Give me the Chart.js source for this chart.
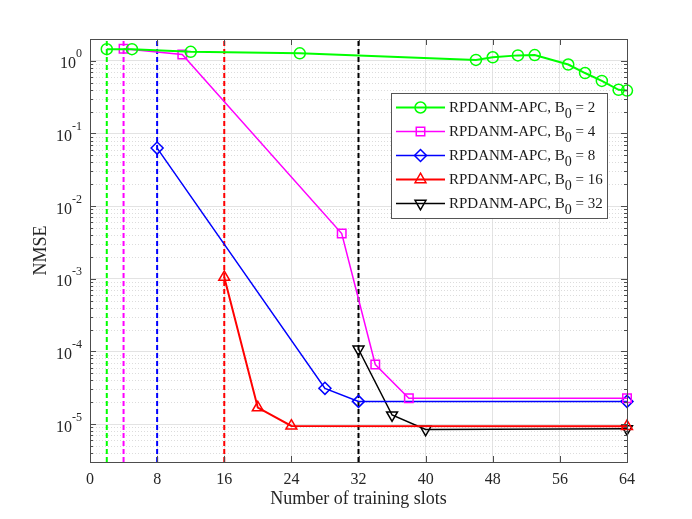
<!DOCTYPE html>
<html>
<head>
<meta charset="utf-8">
<title>NMSE vs number of training slots</title>
<script src="https://cdn.jsdelivr.net/npm/chart.js@4.4.1/dist/chart.umd.min.js"></script>
<style>
  html, body { margin:0; padding:0; background:#fff; }
  #wrap { width:692px; height:519px; }
</style>
</head>
<body>
<div id="wrap"><canvas id="nmseChart" width="692" height="519"></canvas></div>
<script>
/* ===============================
   DATA
================================ */

const b0Values = [2, 4, 8, 16, 32];

const slotsB2  = [2, 5, 12, 25, 46, 48, 51, 53, 57, 59, 61, 63, 64];
const nmseB2   = [1.45, 1.45, 1.33, 1.27, 1.03, 1.12, 1.19, 1.2, 0.89, 0.68, 0.53, 0.40, 0.39];

const slotsB4  = [4, 11, 30, 34, 38, 64];
const nmseB4   = [1.47, 1.22, 4.2e-3, 6.6e-5, 2.27e-5, 2.27e-5];

const slotsB8  = [8, 28, 32, 64];
const nmseB8   = [0.063, 3.1e-5, 2.05e-5, 2.05e-5];

const slotsB16 = [16, 20, 24, 64];
const nmseB16  = [1.05e-3, 1.68e-5, 9.4e-6, 9.3e-6];

const slotsB32 = [32, 36, 40, 64];
const nmseB32  = [1.07e-4, 1.33e-5, 8.4e-6, 8.6e-6];

const xTicks    = [0, 8, 16, 24, 32, 40, 48, 56, 64];
const yTickExps = [-5, -4, -3, -2, -1, 0];
const yMin = 3e-6;
const yMax = 2;

const labelPrefix = "RPDANM-APC, B";
const labelSub = "0";

/* STYLE */
const colors     = ["#00ff00", "#ff00ff", "#0000ff", "#ff0000", "#000000"];
const lineWidths = [2, 1.5, 1.5, 2, 1.5];
const markers    = ["circle", "rect", "rectRot", "triangle", "triangle"];
const markerRot  = [0, 0, 0, 0, 180];
const markerSize = [5.5, 6, 6, 6.3, 6.3];

const serif = "Liberation Serif";
const inkColor = "#262626";

const seriesX = [slotsB2, slotsB4, slotsB8, slotsB16, slotsB32];
const seriesY = [nmseB2, nmseB4, nmseB8, nmseB16, nmseB32];


/* DATASETS */
const datasets = [];

seriesX.forEach((xs, i) => {
  datasets.push({
    label: labelPrefix + labelSub + " = " + b0Values[i],
    data: xs.map((x, j) => ({x: x, y: seriesY[i][j]})),
    borderColor: colors[i],
    backgroundColor: "rgba(0,0,0,0)",
    borderWidth: lineWidths[i],
    pointStyle: markers[i],
    pointRotation: markerRot[i],
    pointRadius: markerSize[i],
    pointBorderWidth: 1.5,
    pointBorderColor: colors[i],
    pointBackgroundColor: "rgba(0,0,0,0)",
    tension: 0,
    clip: false
  });
});

// vertical dashed markers at x = B0
b0Values.forEach((b, i) => {
  datasets.push({
    label: "B0 line " + b,
    data: [{x: b, y: yMin}, {x: b, y: yMax}],
    borderColor: colors[i],
    borderWidth: 2,
    borderDash: [5, 3],
    pointRadius: 0,
    clip: false
  });
});


/* MINOR GRID, BOX, TICKS, LABELS, LEGEND */
const frame = {
  id: "frame",

  beforeDatasetsDraw(chart){
    const {ctx, chartArea: a} = chart;
    const ys = chart.scales.y;
    ctx.save();
    ctx.strokeStyle = "#dcdcdc";
    ctx.lineWidth = 1;
    ctx.setLineDash([1, 2]);
    minorValues().forEach(v => {
      const py = Math.round(ys.getPixelForValue(v)) + 0.5;
      ctx.beginPath();
      ctx.moveTo(a.left, py);
      ctx.lineTo(a.right, py);
      ctx.stroke();
    });
    ctx.restore();
  },

  afterDraw(chart){
    const {ctx, chartArea: a} = chart;
    const xs = chart.scales.x;
    const ys = chart.scales.y;

    ctx.save();
    ctx.strokeStyle = "#4d4d4d";
    ctx.lineWidth = 1;
    ctx.setLineDash([]);
    ctx.strokeRect(Math.round(a.left) + 0.5, Math.round(a.top) + 0.5,
      Math.round(a.right - a.left), Math.round(a.bottom - a.top));

    // tick marks inside the box
    ctx.beginPath();
    xTicks.forEach(v => {
      const px = Math.round(xs.getPixelForValue(v)) + 0.5;
      ctx.moveTo(px, a.bottom); ctx.lineTo(px, a.bottom - 6);
      ctx.moveTo(px, a.top);    ctx.lineTo(px, a.top + 6);
    });
    yTickExps.forEach(e => {
      const py = Math.round(ys.getPixelForValue(Math.pow(10, e))) + 0.5;
      ctx.moveTo(a.left, py);  ctx.lineTo(a.left + 6, py);
      ctx.moveTo(a.right, py); ctx.lineTo(a.right - 6, py);
    });
    minorValues().forEach(v => {
      const py = Math.round(ys.getPixelForValue(v)) + 0.5;
      ctx.moveTo(a.left, py);  ctx.lineTo(a.left + 3, py);
      ctx.moveTo(a.right, py); ctx.lineTo(a.right - 3, py);
    });
    ctx.stroke();

    // y tick labels 10^k
    ctx.fillStyle = inkColor;
    ctx.textBaseline = "alphabetic";
    ctx.textAlign = "left";
    yTickExps.forEach(e => {
      const py = ys.getPixelForValue(Math.pow(10, e));
      const expText = String(e);
      ctx.font = `16px "${serif}"`;
      const wBase = ctx.measureText("10").width;
      ctx.font = `12px "${serif}"`;
      const wExp = ctx.measureText(expText).width;
      const x0 = a.left - 8 - wBase - wExp;
      ctx.font = `16px "${serif}"`;
      ctx.fillText("10", x0, py + 7.5);
      ctx.font = `12px "${serif}"`;
      ctx.fillText(expText, x0 + wBase, py - 3.5);
    });

    drawLegend(ctx);
    ctx.restore();
  }
};

function minorValues(){
  const out = [];
  for (let e = -6; e <= 0; e++){
    for (let m = 2; m <= 9; m++){
      const v = m * Math.pow(10, e);
      if (v > yMin * 1.0001 && v < yMax * 0.9999) out.push(v);
    }
  }
  return out;
}

function drawLegend(ctx){
  const left = 391, top = 93, width = 216, height = 125;
  const firstRow = 107.5, rowH = 24;

  ctx.fillStyle = "#ffffff";
  ctx.fillRect(left, top, width, height);
  ctx.strokeStyle = "#555555";
  ctx.lineWidth = 1;
  ctx.strokeRect(left + 0.5, top + 0.5, width, height);

  b0Values.forEach((b, i) => {
    const y = firstRow + rowH * i;

    ctx.strokeStyle = colors[i];
    ctx.lineWidth = lineWidths[i];
    ctx.setLineDash([]);
    ctx.beginPath();
    ctx.moveTo(396, y);
    ctx.lineTo(445, y);
    ctx.stroke();

    ctx.lineWidth = 1.5;
    ctx.fillStyle = "rgba(0,0,0,0)";
    Chart.helpers.drawPoint(ctx, {
      pointStyle: markers[i],
      rotation: markerRot[i],
      radius: markerSize[i],
      borderWidth: 1.5
    }, 420.5, y);

    ctx.fillStyle = "#1a1a1a";
    ctx.font = `15px "${serif}"`;
    ctx.fillText(labelPrefix, 449, y + 4);
    let x = 449 + ctx.measureText(labelPrefix).width;
    ctx.font = `14px "${serif}"`;
    ctx.fillText(labelSub, x, y + 10);
    x += ctx.measureText(labelSub).width;
    ctx.font = `15px "${serif}"`;
    ctx.fillText(" = " + b, x, y + 4);
  });
}


/* CHART */
new Chart(document.getElementById("nmseChart"), {
  type: "line",
  data: { datasets: datasets },
  options: {
    responsive: false,
    animation: false,
    events: [],
    layout: { padding: { top: 39, right: 65, bottom: 0, left: 0 } },
    plugins: {
      legend: { display: false },
      tooltip: { enabled: false }
    },
    scales: {
      x: {
        type: "linear",
        min: 0,
        max: 64,
        afterBuildTicks: s => { s.ticks = xTicks.map(v => ({value: v})); },
        afterFit: s => { s.height = 57; s.paddingLeft = 0; s.paddingRight = 0; },
        grid: { color: "#e3e3e3", lineWidth: 1, drawTicks: false },
        border: { display: false },
        ticks: {
          color: inkColor,
          font: { family: serif, size: 16 },
          padding: 8,
          maxRotation: 0,
          autoSkip: false
        },
        title: {
          display: true,
          text: "Number of training slots",
          color: inkColor,
          font: { family: serif, size: 18 },
          padding: { top: 0, bottom: 9 }
        }
      },
      y: {
        type: "logarithmic",
        min: yMin,
        max: yMax,
        afterBuildTicks: s => { s.ticks = yTickExps.map(e => ({value: Math.pow(10, e), major: true})); },
        afterFit: s => { s.width = 90; s.paddingTop = 0; s.paddingBottom = 0; },
        grid: { color: "#e3e3e3", lineWidth: 1, drawTicks: false },
        border: { display: false },
        ticks: { display: false },
        title: {
          display: true,
          text: "NMSE",
          color: inkColor,
          font: { family: serif, size: 18 },
          padding: { top: 30, bottom: 0 }
        }
      }
    }
  },
  plugins: [frame]
});
</script>
</body>
</html>
